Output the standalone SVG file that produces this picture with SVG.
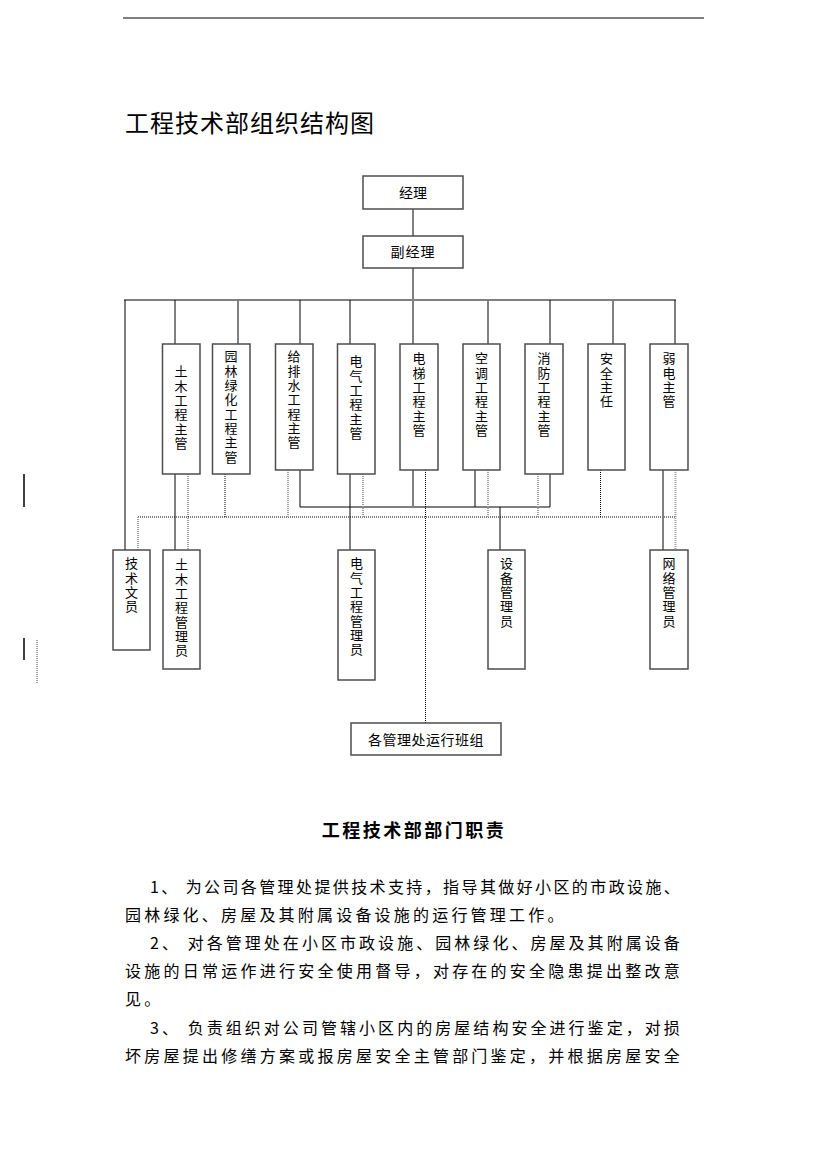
<svg xmlns="http://www.w3.org/2000/svg" width="827" height="1170" viewBox="0 0 827 1170">
<style>
text{font-family:"Noto Sans CJK SC","Liberation Sans",sans-serif;fill:#000}
.box{fill:#fff;stroke:#4d4d4d;stroke-width:1.5}
.vt{font-size:13px;writing-mode:vertical-rl;letter-spacing:1.3px}
.ht{font-size:14px;text-anchor:middle}
.s{stroke:#000;stroke-width:1;fill:none}
.g{stroke:#808080;stroke-width:2;fill:none}
.d{stroke:#000;stroke-width:1;stroke-dasharray:1 1;fill:none}
.gd{stroke:#a0a0a0;stroke-width:2;stroke-dasharray:1 1;fill:none}
.p{font-size:16px;letter-spacing:3.2px}
</style>
<rect width="827" height="1170" fill="#fff"/>
<line x1="123" y1="18" x2="704" y2="18" stroke="#555" stroke-width="1.5"/>
<text x="125" y="132" font-size="24" letter-spacing="1">工程技术部组织结构图</text>

<g id="connectors">
<line class="g" x1="413" y1="209" x2="413" y2="236"/>
<line class="g" x1="413" y1="268" x2="413" y2="300"/>
<line class="g" x1="124" y1="300" x2="676" y2="300"/>
<line class="s" x1="125" y1="300" x2="125" y2="550"/>
<line class="s" x1="175" y1="300" x2="175" y2="344"/>
<line class="g" x1="238" y1="300" x2="238" y2="344"/>
<line class="s" x1="300" y1="300" x2="300" y2="344"/>
<line class="s" x1="350" y1="300" x2="350" y2="344"/>
<line class="g" x1="413" y1="300" x2="413" y2="344"/>
<line class="g" x1="488" y1="300" x2="488" y2="344"/>
<line class="s" x1="550" y1="300" x2="550" y2="344"/>
<line class="g" x1="613" y1="300" x2="613" y2="344"/>
<line class="s" x1="675" y1="300" x2="675" y2="344"/>
<line class="s" x1="175" y1="474" x2="175" y2="550"/>
<line class="gd" x1="188" y1="474" x2="188" y2="550"/>
<line class="d" x1="138" y1="517" x2="676" y2="517"/>
<line class="gd" x1="138" y1="517" x2="138" y2="550"/>
<line class="d" x1="225" y1="474" x2="225" y2="517"/>
<line class="gd" x1="288" y1="470" x2="288" y2="517"/>
<polyline class="s" points="300,470 300,507 550,507 550,474"/>
<line class="s" x1="350" y1="474" x2="350" y2="550"/>
<line class="gd" x1="363" y1="474" x2="363" y2="517"/>
<line class="g" x1="413" y1="470" x2="413" y2="507"/>
<line class="d" x1="425.5" y1="470" x2="425.5" y2="723"/>
<line class="s" x1="475" y1="470" x2="475" y2="507"/>
<line class="gd" x1="488" y1="470" x2="488" y2="517"/>
<line class="s" x1="500" y1="507" x2="500" y2="550"/>
<line class="gd" x1="538" y1="474" x2="538" y2="517"/>
<line class="d" x1="600.5" y1="470" x2="600.5" y2="517"/>
<line class="g" x1="663" y1="470" x2="663" y2="550"/>
<line class="gd" x1="675.5" y1="470" x2="675.5" y2="550"/>
</g>

<g id="n-jingli"><rect class="box" x="363" y="176" width="100" height="33"/><text class="ht" x="413" y="198">经理</text></g>
<g id="n-fujingli"><rect class="box" x="363" y="236" width="100" height="32"/><text class="ht" x="413" y="257" letter-spacing="1">副经理</text></g>

<g id="n-tumu"><rect class="box" x="162.5" y="344" width="37.5" height="130"/><text class="vt" x="181" y="365">土木工程主管</text></g>
<g id="n-yuanlin"><rect class="box" x="212.5" y="344" width="37.5" height="130"/><text class="vt" x="231" y="350" letter-spacing="2.5">园林绿化工程主管</text></g>
<g id="n-geipaishui"><rect class="box" x="275.5" y="344" width="37.5" height="126"/><text class="vt" x="294" y="350">给排水工程主管</text></g>
<g id="n-dianqi"><rect class="box" x="337.5" y="344" width="37.5" height="130"/><text class="vt" x="356" y="355" letter-spacing="0.5">电气工程主管</text></g>
<g id="n-dianti"><rect class="box" x="400" y="344" width="38" height="126"/><text class="vt" x="419" y="352">电梯工程主管</text></g>
<g id="n-kongtiao"><rect class="box" x="463" y="344" width="37" height="126"/><text class="vt" x="481.5" y="352">空调工程主管</text></g>
<g id="n-xiaofang"><rect class="box" x="525" y="344" width="38" height="130"/><text class="vt" x="544" y="352">消防工程主管</text></g>
<g id="n-anquan"><rect class="box" x="588" y="344" width="37" height="126"/><text class="vt" x="606.5" y="352">安全主任</text></g>
<g id="n-ruodian"><rect class="box" x="650" y="344" width="38" height="126"/><text class="vt" x="669" y="352">弱电主管</text></g>

<g id="n-jishuwenyuan"><rect class="box" x="113" y="550" width="37" height="100"/><text class="vt" x="131.5" y="557">技术文员</text></g>
<g id="n-tumuguanli"><rect class="box" x="163" y="550" width="37" height="119"/><text class="vt" x="181.5" y="558">土木工程管理员</text></g>
<g id="n-dianqiguanli"><rect class="box" x="338" y="550" width="37" height="130"/><text class="vt" x="356.5" y="557">电气工程管理员</text></g>
<g id="n-shebei"><rect class="box" x="488" y="550" width="37" height="119"/><text class="vt" x="506.5" y="557">设备管理员</text></g>
<g id="n-wangluo"><rect class="box" x="650" y="550" width="38" height="119"/><text class="vt" x="669" y="557">网络管理员</text></g>
<g id="n-banzu"><rect class="box" x="351" y="723" width="150" height="32"/><text class="ht" x="426" y="745" letter-spacing="0.5">各管理处运行班组</text></g>

<g id="margin-marks">
<line x1="24" y1="474" x2="24" y2="507" stroke="#000" stroke-width="1.5"/>
<line x1="24" y1="638" x2="24" y2="660" stroke="#000" stroke-width="1.5"/>
<line class="gd" x1="37" y1="640" x2="37" y2="683"/>
</g>

<text x="414" y="837" font-size="18" font-weight="bold" text-anchor="middle" letter-spacing="2.5">工程技术部部门职责</text>
<text class="p" x="150" y="893" textLength="533" lengthAdjust="spacing">1、 为公司各管理处提供技术支持，指导其做好小区的市政设施、</text>
<text class="p" x="125" y="921">园林绿化、房屋及其附属设备设施的运行管理工作。</text>
<text class="p" x="150" y="949" textLength="533" lengthAdjust="spacing">2、 对各管理处在小区市政设施、园林绿化、房屋及其附属设备</text>
<text class="p" x="125" y="977" textLength="558" lengthAdjust="spacing">设施的日常运作进行安全使用督导，对存在的安全隐患提出整改意</text>
<text class="p" x="125" y="1005">见。</text>
<text class="p" x="150" y="1034" textLength="533" lengthAdjust="spacing">3、 负责组织对公司管辖小区内的房屋结构安全进行鉴定，对损</text>
<text class="p" x="125" y="1062" textLength="558" lengthAdjust="spacing">坏房屋提出修缮方案或报房屋安全主管部门鉴定，并根据房屋安全</text>
</svg>
